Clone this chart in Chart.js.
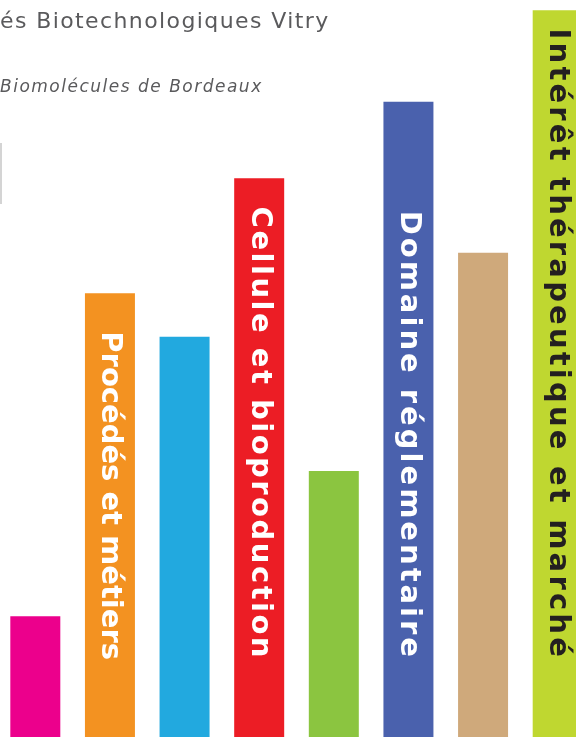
<!DOCTYPE html>
<html>
<head>
<meta charset="utf-8">
<script src="https://cdn.jsdelivr.net/npm/chart.js@4.4.1/dist/chart.umd.min.js"></script>
<style>
  html, body { margin: 0; padding: 0; background: #fff; overflow: hidden; }
  #wrap { position: relative; width: 576px; height: 737px; overflow: hidden; }
  #chartBox { position: absolute; left: -2px; top: 0; width: 597px; height: 737px; }
  .title { position: absolute; left: 0; top: 8px; font-family: "DejaVu Sans", sans-serif; font-size: 22px; letter-spacing: 1.4px; color: #5a5a5c; white-space: nowrap; }
  .subtitle { position: absolute; left: 0; top: 76px; font-family: "DejaVu Sans", sans-serif; font-style: italic; font-size: 17px; letter-spacing: 1.5px; color: #5a5a5c; white-space: nowrap; }
  .edge { position: absolute; left: 0; top: 143px; width: 2px; height: 61px; background: #d4d4d4; }
</style>
</head>
<body>
<div id="wrap">
  <div id="chartBox"><canvas id="barChart"></canvas></div>
  <div class="title">és Biotechnologiques Vitry</div>
  <div class="subtitle">Biomolécules de Bordeaux</div>
  <div class="edge"></div>
</div>
<script>
// one bar per theme (0-100 scale)
var categories = ['Thème 1', 'Procédés et métiers', 'Thème 3', 'Cellule et bioproduction',
    'Thème 5', 'Domaine réglementaire', 'Thème 7', 'Intérêt thérapeutique et marché']
var values = [16.4, 60.2, 54.3, 75.8, 36.1, 86.2, 65.7, 98.6]
var barLabels = ['', 'Procédés et métiers', '', 'Cellule et bioproduction',
    '', 'Domaine réglementaire', '', 'Intérêt thérapeutique et marché']
var barColors = ['#ec008c', '#f39221', '#22a9df', '#ec1d25', '#8bc540', '#4a61ad', '#cfa97b', '#bfd730']
var labelColors = ['#fff', '#fff', '#fff', '#fff', '#fff', '#fff', '#fff', '#231f20']
var labelSpacing = [0, 0, 0, 2.5, 0, 3, 0, 3.2]

// writes the theme name down the bar, reading top to bottom
var barText = {
    id: 'barText',
    afterDatasetsDraw: function (chart) {
        var ctx = chart.ctx
        var meta = chart.getDatasetMeta(0)
        meta.data.forEach(function (bar, i) {
            if (!barLabels[i]) return
            ctx.save()
            ctx.translate(bar.x, bar.base - 77)
            ctx.rotate(Math.PI / 2)
            ctx.font = 'bold 29px "DejaVu Sans", sans-serif'
            ctx.letterSpacing = labelSpacing[i] + 'px'
            ctx.fillStyle = labelColors[i]
            ctx.textAlign = 'right'
            ctx.textBaseline = 'middle'
            ctx.fillText(barLabels[i], 0, 0)
            ctx.restore()
        })
    }
}

var chart = new Chart(document.getElementById('barChart').getContext('2d'), {
    type: 'bar',
    data: {
        labels: categories,
        datasets: [{
            data: values,
            backgroundColor: barColors,
            borderWidth: 0,
            barPercentage: 0.67,
            categoryPercentage: 1
        }]
    },
    options: {
        responsive: true,
        maintainAspectRatio: false,
        animation: false,
        layout: { padding: 0 },
        plugins: {
            legend: { display: false },
            tooltip: { enabled: false },
            title: { display: false }
        },
        scales: {
            x: { display: false },
            y: { display: false, min: 0, max: 100 }
        }
    },
    plugins: [barText]
})
</script>
</body>
</html>
